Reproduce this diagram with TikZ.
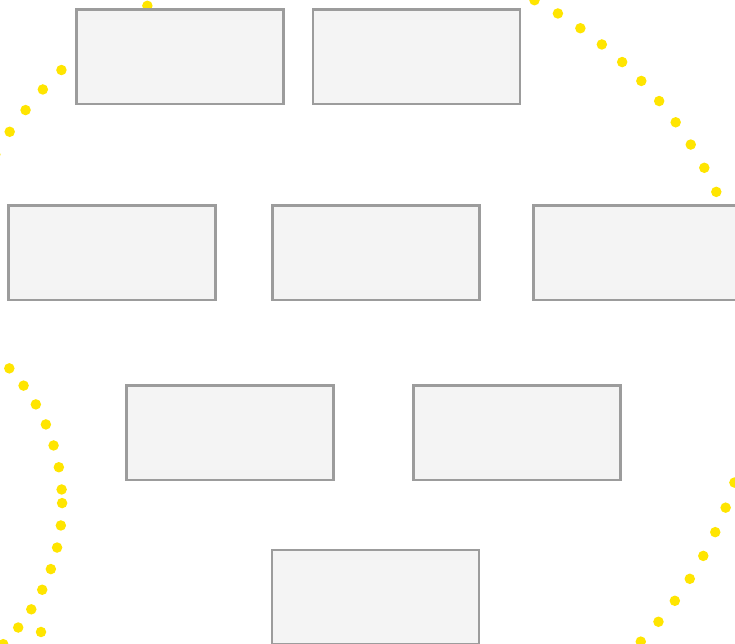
\documentclass[tikz,border=0pt]{standalone}
\begin{document}
\begin{tikzpicture}[x=1pt,y=1pt,
  boxnode/.style={draw=boxline, fill=boxfill, line width=2.5pt, minimum width=207pt, minimum height=94.5pt, inner sep=0pt, outer sep=0pt},
  topdots/.style={draw=dotyellow, line width=10.5pt, line cap=round, dash pattern=on 0pt off 26.9pt},
  bigdots/.style={draw=dotyellow, line width=10.5pt, line cap=round, dash pattern=on 0pt off 26.6pt},
  smalldots/.style={draw=dotyellow, line width=10.5pt, line cap=round, dash pattern=on 0pt off 22.42pt}]
\definecolor{boxline}{HTML}{9C9C9C}
\definecolor{boxfill}{HTML}{F4F4F4}
\definecolor{dotyellow}{HTML}{FFE500}
\useasboundingbox (0,0) rectangle (735,644);
\clip (0,0) rectangle (735,644);
% dotted circles (behind boxes)
\coordinate (bigc) at (346,283);
\coordinate (leftc) at (-136.3,140.9);
\draw[topdots] (bigc) ++(1.83:407) arc[start angle=1.83, end angle=200, radius=407];
\draw[bigdots] (bigc) ++(-2.4:407) arc[start angle=-2.4, end angle=-100, radius=407];
\draw[smalldots] (leftc) ++(0:198.4) arc[start angle=0, end angle=-360, radius=198.4];
\coordinate (lonedot) at (41,12);
\fill[dotyellow] (lonedot) circle[radius=5.25];
% boxes
\node[boxnode] (b1) at (179.8,587) {};
\node[boxnode] (b2) at (416.7,587) {};
\node[boxnode] (b3) at (112,391.25) {};
\node[boxnode] (b4) at (376,391.25) {};
\node[boxnode] (b5) at (637,391.25) {};
\node[boxnode] (b6) at (230,211) {};
\node[boxnode] (b7) at (517,211) {};
\node[boxnode] (b8) at (375.5,46.5) {};
\end{tikzpicture}
\end{document}
